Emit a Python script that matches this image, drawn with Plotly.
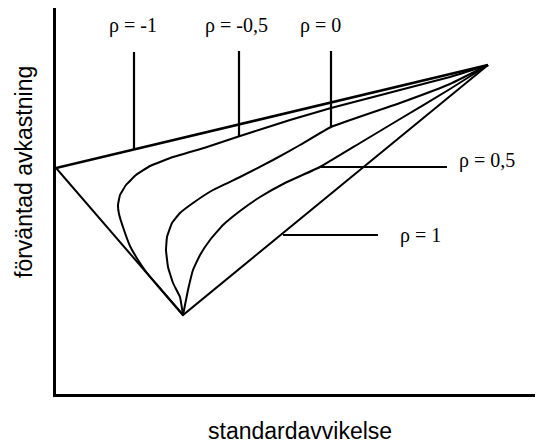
import plotly.graph_objects as go

# Data units: x = standard deviation, y = expected return (arbitrary units, no ticks shown)
rho_m1_x = [0.0, 43.2]
rho_m1_y = [22.6, 32.9]

rho_p1_x = [0.0, 12.7, 43.2]
rho_p1_y = [22.6, 7.9, 32.9]

rho_m05_x = [12.7, 11.4, 10.2, 9.1, 8.2, 7.4, 6.8, 6.3, 6.2, 6.4, 7.0, 8.0, 9.4, 11.7, 15.1, 18.4, 23.4, 27.5, 34.4, 39.4, 43.2]
rho_m05_y = [7.9, 9.4, 10.8, 12.1, 13.4, 14.8, 16.4, 18.0, 18.9, 19.9, 20.9, 21.9, 22.8, 23.7, 24.7, 25.8, 27.4, 28.6, 30.4, 31.7, 32.9]

rho_0_x = [12.7, 12.4, 11.7, 11.2, 11.0, 11.1, 11.6, 12.4, 13.7, 15.7, 18.4, 21.7, 24.4, 27.5, 34.4, 39.4, 43.2]
rho_0_y = [7.9, 9.7, 11.1, 12.7, 14.4, 15.7, 17.1, 18.1, 19.1, 20.4, 21.7, 23.4, 24.9, 26.7, 29.1, 31.0, 32.9]

rho_05_x = [12.7, 12.9, 13.2, 13.7, 14.4, 15.4, 16.7, 18.4, 20.4, 22.9, 26.4, 30.4, 34.4, 39.4, 43.2]
rho_05_y = [7.9, 8.9, 10.4, 12.4, 13.9, 15.4, 16.9, 18.3, 19.7, 21.1, 22.7, 25.1, 27.5, 30.5, 32.9]

# Label texts and where their pointer lines sit (data units)
label_texts = ["ρ = -1", "ρ = -0,5", "ρ = 0", "ρ = 0,5", "ρ = 1"]
vpointer_x = [7.8, 18.3, 27.5]
vpointer_top = [34.2, 34.3, 34.3]
vpointer_bottom = [24.5, 25.8, 26.7]
hpointer_y = [22.7, 15.9]
hpointer_x0 = [26.4, 22.7]
hpointer_x1 = [39.1, 32.2]

x_title = "standardavvikelse"
y_title = "förväntad avkastning"

fig = go.Figure()

fig.add_trace(go.Scatter(x=rho_m1_x, y=rho_m1_y, mode="lines", line=dict(color="black", width=2.6)))
fig.add_trace(go.Scatter(x=rho_p1_x, y=rho_p1_y, mode="lines", line=dict(color="black", width=2)))
for xs, ys in [(rho_m05_x, rho_m05_y), (rho_0_x, rho_0_y), (rho_05_x, rho_05_y)]:
    fig.add_trace(go.Scatter(x=xs, y=ys, mode="lines",
                             line=dict(color="black", width=2, shape="spline", smoothing=0.3)))

for px, t, b in zip(vpointer_x, vpointer_top, vpointer_bottom):
    fig.add_trace(go.Scatter(x=[px, px], y=[t, b], mode="lines", line=dict(color="black", width=2.2)))
for py, a, b in zip(hpointer_y, hpointer_x0, hpointer_x1):
    fig.add_trace(go.Scatter(x=[a, b], y=[py, py], mode="lines", line=dict(color="black", width=2.2)))

serif = dict(family="Liberation Serif, Times New Roman, serif", size=20, color="black")
top_label_x = [7.7, 18.0, 26.4]
for txt, lx in zip(label_texts[:3], top_label_x):
    fig.add_annotation(x=lx, y=36.9, xref="x", yref="y", text=txt, showarrow=False,
                       xanchor="center", yanchor="middle", font=serif)
fig.add_annotation(x=40.1, y=23.4, xref="x", yref="y", text=label_texts[3], showarrow=False,
                   xanchor="left", yanchor="middle", font=serif)
fig.add_annotation(x=34.2, y=15.9, xref="x", yref="y", text=label_texts[4], showarrow=False,
                   xanchor="left", yanchor="middle", font=serif)

sans = dict(family="Liberation Sans, Arial, sans-serif", size=23, color="black")
fig.add_annotation(x=(24 - 56) / 487, y=(394 - 172) / 386, xref="paper", yref="paper",
                   text=y_title, textangle=-90, showarrow=False,
                   xanchor="center", yanchor="middle", font=sans)
fig.add_annotation(x=(300 - 56) / 487, y=(394 - 431) / 386, xref="paper", yref="paper",
                   text=x_title, showarrow=False,
                   xanchor="center", yanchor="middle", font=sans)

fig.update_xaxes(range=[0, 48.7], showline=True, linecolor="black", linewidth=2.5,
                 showgrid=False, zeroline=False, showticklabels=False, ticks="")
fig.update_yaxes(range=[0, 38.6], showline=True, linecolor="black", linewidth=2.5,
                 showgrid=False, zeroline=False, showticklabels=False, ticks="")

# The page adds an 8px body margin, so the figure is shrunk by that amount.
fig.update_layout(width=535, height=436, margin=dict(l=48, r=0, t=0, b=50),
                  paper_bgcolor="white", plot_bgcolor="white", showlegend=False)

fig.write_html("out.html")
